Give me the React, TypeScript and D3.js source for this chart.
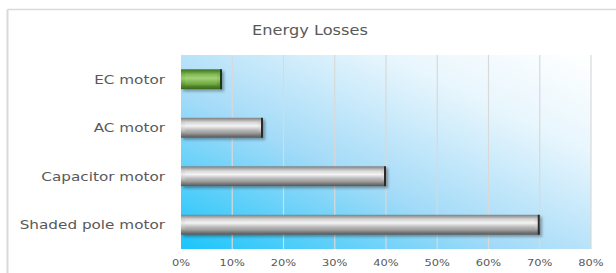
import React from "react";
import * as d3 from "d3";

const title = "Energy Losses";
const categories = ["EC motor", "AC motor", "Capacitor motor", "Shaded pole motor"];
const values = [0.08, 0.16, 0.4, 0.7];
const tickValues = [0, 0.1, 0.2, 0.3, 0.4, 0.5, 0.6, 0.7, 0.8];
const green = [true, false, false, false];

const W = 616;
const H = 273;
const plot = { left: 181, right: 591, top: 55, bottom: 249 };
const SX = 1.27;
const textColor = "#595959";

export default function App() {
  const x = d3.scaleLinear().domain([0, 0.8]).range([plot.left, plot.right]);
  const y = d3
    .scaleBand<string>()
    .domain(categories)
    .range([plot.top, plot.bottom])
    .paddingInner(0.59)
    .paddingOuter(0.295);
  const bh = y.bandwidth();
  const fmt = d3.format(".0%");

  return (
    <svg
      width={W}
      height={H}
      style={{ position: "absolute", left: 0, top: 0, display: "block" }}
    >
      <defs>
        <linearGradient id="bg" x1="0" y1="1" x2="1" y2="0">
          <stop offset="0" stopColor="#1bc5fb" />
          <stop offset="0.4" stopColor="#a4dbf8" />
          <stop offset="0.75" stopColor="#e8f6fd" />
          <stop offset="1" stopColor="#ffffff" />
        </linearGradient>
        <linearGradient id="grayOuter" x1="0" y1="0" x2="0" y2="1">
          <stop offset="0" stopColor="#7e7e7e" />
          <stop offset="0.18" stopColor="#c4c4c4" />
          <stop offset="0.4" stopColor="#ececec" />
          <stop offset="0.65" stopColor="#bcbcbc" />
          <stop offset="1" stopColor="#555555" />
        </linearGradient>
        <linearGradient id="grayInner" x1="0" y1="0" x2="0" y2="1">
          <stop offset="0" stopColor="#d2d2d2" />
          <stop offset="0.35" stopColor="#f4f4f4" />
          <stop offset="0.7" stopColor="#b8b8b8" />
          <stop offset="1" stopColor="#969696" />
        </linearGradient>
        <linearGradient id="greenOuter" x1="0" y1="0" x2="0" y2="1">
          <stop offset="0" stopColor="#3f6e1f" />
          <stop offset="0.2" stopColor="#6fa843" />
          <stop offset="0.45" stopColor="#9acd6c" />
          <stop offset="0.7" stopColor="#6aa43c" />
          <stop offset="1" stopColor="#3a6619" />
        </linearGradient>
        <linearGradient id="greenInner" x1="0" y1="0" x2="0" y2="1">
          <stop offset="0" stopColor="#78b04a" />
          <stop offset="0.4" stopColor="#a4d378" />
          <stop offset="1" stopColor="#65a038" />
        </linearGradient>
        <filter id="shadow" x="-10%" y="-30%" width="130%" height="180%">
          <feGaussianBlur in="SourceAlpha" stdDeviation="1.5" />
          <feOffset dx="2" dy="2" result="b" />
          <feComponentTransfer>
            <feFuncA type="linear" slope="0.35" />
          </feComponentTransfer>
          <feMerge>
            <feMergeNode />
            <feMergeNode in="SourceGraphic" />
          </feMerge>
        </filter>
      </defs>
      <rect x={0} y={0} width={W} height={H} fill="#ffffff" />
      {/* chart frame */}
      <line x1={7.5} y1={9.5} x2={W} y2={9.5} stroke="#d9d9d9" strokeWidth={1.5} />
      <line x1={7.5} y1={9.5} x2={7.5} y2={H} stroke="#d9d9d9" strokeWidth={2} />

      {/* title */}
      <text
        transform={`translate(310,35) scale(1.2,1)`}
        textAnchor="middle"
        fontFamily="DejaVu Sans"
        fontSize={13.5}
        fill={textColor}
      >
        {title}
      </text>

      {/* plot background */}
      <rect
        x={plot.left}
        y={plot.top}
        width={plot.right - plot.left}
        height={plot.bottom - plot.top}
        fill="url(#bg)"
      />
      {/* gridlines */}
      {tickValues.slice(1).map((t) => (
        <line
          key={t}
          x1={x(t)}
          x2={x(t)}
          y1={plot.top}
          y2={plot.bottom}
          stroke="#d9d9d9"
          strokeWidth={1.2}
        />
      ))}

      {/* bars */}
      {categories.map((c, i) => {
        const y0 = y(c) as number;
        const x0 = x(0);
        const w = x(values[i]) - x0;
        const g = green[i];
        return (
          <g key={c} filter="url(#shadow)">
            <rect x={x0} y={y0} width={w} height={bh} fill={g ? "url(#greenOuter)" : "url(#grayOuter)"} />
            <rect
              x={x0 + 4}
              y={y0 + 4}
              width={Math.max(0, w - 9)}
              height={bh - 8}
              fill={g ? "url(#greenInner)" : "url(#grayInner)"}
            />
            <rect x={x0 + w - 2} y={y0} width={2} height={bh} fill={g ? "#1f3a0c" : "#2a2a2a"} />
          </g>
        );
      })}

      {/* category labels */}
      {categories.map((c) => (
        <text
          key={c}
          transform={`translate(165,${(y(c) as number) + bh / 2 + 4.3}) scale(${SX},1)`}
          textAnchor="end"
          fontFamily="DejaVu Sans"
          fontSize={12}
          fill={textColor}
        >
          {c}
        </text>
      ))}

      {/* tick labels */}
      {tickValues.map((t) => (
        <text
          key={t}
          transform={`translate(${x(t)},266) scale(${SX},1)`}
          textAnchor="middle"
          fontFamily="DejaVu Sans"
          fontSize={9}
          fill={textColor}
        >
          {fmt(t)}
        </text>
      ))}
    </svg>
  );
}
